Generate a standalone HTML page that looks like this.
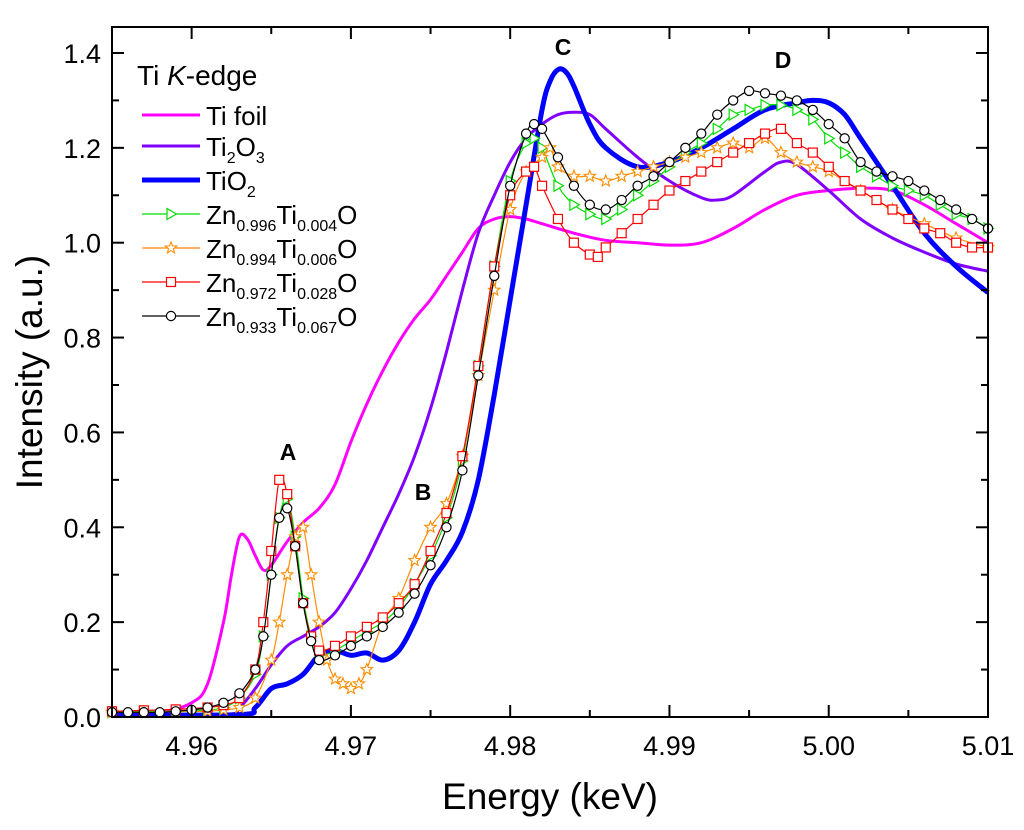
<!DOCTYPE html>
<html><head><meta charset="utf-8">
<style>
html,body{margin:0;padding:0;background:#fff;}
svg{display:block;font-family:"Liberation Sans",Arial,sans-serif;}
</style></head>
<body>
<svg id="chart" width="1024" height="830" viewBox="0 0 1024 830">
<g id="plot"></g>
<g id="axes"></g>
<text x="137" y="85" font-size="28">Ti <tspan font-style="italic">K</tspan>-edge</text>
<g id="legend"></g>
<text x="288" y="460" font-size="23" font-weight="bold" text-anchor="middle">A</text>
<text x="423" y="500" font-size="23" font-weight="bold" text-anchor="middle">B</text>
<text x="563" y="55" font-size="23" font-weight="bold" text-anchor="middle">C</text>
<text x="783" y="68" font-size="23" font-weight="bold" text-anchor="middle">D</text>
<text x="550" y="809" font-size="37" text-anchor="middle">Energy (keV)</text>
<text transform="translate(42,372) rotate(-90)" font-size="37" text-anchor="middle">Intensity (a.u.)</text>
</svg>
<script>
const xTicks=[4.96,4.97,4.98,4.99,5.00,5.01];
const xTickLabels=["4.96","4.97","4.98","4.99","5.00","5.01"];
const yTicks=[0,0.2,0.4,0.6,0.8,1.0,1.2,1.4];
const yTickLabels=["0.0","0.2","0.4","0.6","0.8","1.0","1.2","1.4"];

const foilE=[4.955,4.958,4.960,4.961,4.962,4.9625,4.963,4.9635,4.964,4.9645,4.965,4.966,4.967,4.968,4.969,4.970,4.971,4.972,4.973,4.974,4.975,4.976,4.977,4.978,4.979,4.980,4.981,4.982,4.984,4.986,4.988,4.990,4.992,4.994,4.996,4.998,5.000,5.002,5.004,5.006,5.008,5.010];
const foilI=[0.005,0.01,0.03,0.07,0.2,0.3,0.38,0.375,0.34,0.31,0.32,0.37,0.41,0.44,0.49,0.58,0.66,0.73,0.79,0.84,0.88,0.93,0.98,1.03,1.05,1.055,1.05,1.04,1.02,1.005,1.0,0.995,1.0,1.03,1.07,1.1,1.11,1.115,1.11,1.08,1.04,1.0];

const ti2o3E=[4.955,4.962,4.963,4.964,4.965,4.966,4.967,4.968,4.969,4.970,4.971,4.972,4.973,4.974,4.975,4.976,4.977,4.978,4.979,4.980,4.981,4.982,4.983,4.984,4.985,4.986,4.988,4.990,4.992,4.993,4.994,4.996,4.997,4.998,5.000,5.002,5.004,5.006,5.008,5.010];
const ti2o3I=[0.005,0.005,0.02,0.06,0.11,0.15,0.17,0.19,0.22,0.27,0.33,0.4,0.47,0.55,0.65,0.77,0.9,1.02,1.1,1.17,1.22,1.25,1.27,1.275,1.27,1.24,1.18,1.13,1.095,1.09,1.1,1.15,1.17,1.165,1.11,1.05,1.01,0.98,0.955,0.94];

const tio2E=[4.955,4.963,4.964,4.965,4.966,4.967,4.968,4.969,4.970,4.971,4.972,4.973,4.974,4.975,4.976,4.977,4.978,4.979,4.980,4.981,4.982,4.9825,4.983,4.9835,4.984,4.985,4.986,4.988,4.990,4.992,4.994,4.996,4.998,4.999,5.000,5.001,5.002,5.004,5.006,5.008,5.010];
const tio2I=[0.005,0.005,0.02,0.06,0.07,0.09,0.13,0.14,0.13,0.135,0.12,0.14,0.2,0.28,0.33,0.39,0.5,0.68,0.88,1.08,1.28,1.34,1.365,1.36,1.33,1.25,1.2,1.16,1.17,1.2,1.24,1.28,1.295,1.3,1.295,1.27,1.22,1.12,1.02,0.95,0.895];

const s996E=[4.955,4.957,4.959,4.961,4.962,4.963,4.964,4.9645,4.965,4.9655,4.966,4.9665,4.967,4.9675,4.968,4.969,4.970,4.971,4.972,4.973,4.974,4.975,4.976,4.977,4.978,4.979,4.980,4.981,4.9815,4.982,4.983,4.984,4.985,4.986,4.987,4.988,4.989,4.990,4.991,4.992,4.993,4.994,4.995,4.996,4.997,4.998,4.999,5.000,5.001,5.002,5.003,5.004,5.005,5.006,5.007,5.008,5.009,5.010];
const s996I=[0.01,0.012,0.012,0.015,0.02,0.04,0.09,0.17,0.3,0.42,0.46,0.38,0.25,0.17,0.13,0.14,0.16,0.18,0.2,0.23,0.28,0.34,0.42,0.54,0.74,0.95,1.13,1.21,1.22,1.2,1.12,1.08,1.06,1.05,1.07,1.1,1.13,1.16,1.19,1.21,1.24,1.27,1.28,1.29,1.29,1.28,1.26,1.22,1.19,1.16,1.14,1.12,1.11,1.1,1.08,1.06,1.05,1.03];

const s994E=[4.955,4.957,4.959,4.961,4.962,4.963,4.964,4.965,4.9655,4.966,4.9665,4.967,4.9675,4.968,4.9685,4.969,4.9695,4.970,4.9705,4.971,4.972,4.973,4.974,4.975,4.976,4.977,4.978,4.979,4.980,4.981,4.982,4.9825,4.983,4.984,4.985,4.986,4.987,4.988,4.989,4.990,4.991,4.992,4.993,4.994,4.995,4.996,4.997,4.998,4.999,5.000,5.002,5.004,5.006,5.008,5.010];
const s994I=[0.01,0.01,0.012,0.012,0.015,0.02,0.04,0.12,0.2,0.3,0.38,0.4,0.3,0.2,0.12,0.08,0.07,0.06,0.07,0.1,0.2,0.25,0.33,0.4,0.45,0.55,0.72,0.9,1.07,1.15,1.18,1.2,1.16,1.14,1.14,1.13,1.14,1.15,1.16,1.17,1.18,1.19,1.2,1.21,1.2,1.22,1.19,1.17,1.16,1.15,1.11,1.07,1.04,1.01,0.99];

const s972E=[4.955,4.957,4.959,4.961,4.962,4.963,4.964,4.9645,4.965,4.9655,4.966,4.9665,4.967,4.9675,4.968,4.969,4.970,4.971,4.972,4.973,4.974,4.975,4.976,4.977,4.978,4.979,4.980,4.981,4.9815,4.982,4.983,4.984,4.985,4.9855,4.986,4.987,4.988,4.989,4.990,4.991,4.992,4.993,4.994,4.995,4.996,4.997,4.998,4.999,5.000,5.001,5.002,5.003,5.004,5.005,5.006,5.007,5.008,5.009,5.010];
const s972I=[0.012,0.014,0.016,0.02,0.025,0.04,0.1,0.2,0.35,0.5,0.47,0.36,0.24,0.17,0.14,0.15,0.17,0.19,0.21,0.24,0.28,0.35,0.43,0.55,0.74,0.95,1.1,1.15,1.16,1.12,1.05,1.0,0.975,0.97,0.99,1.02,1.05,1.08,1.11,1.13,1.15,1.17,1.19,1.21,1.23,1.24,1.21,1.19,1.16,1.13,1.11,1.09,1.07,1.05,1.03,1.02,1.0,0.99,0.99];

const s933E=[4.955,4.956,4.957,4.958,4.959,4.960,4.961,4.962,4.963,4.964,4.9645,4.965,4.9655,4.966,4.9665,4.967,4.9675,4.968,4.969,4.970,4.971,4.972,4.973,4.974,4.975,4.976,4.977,4.978,4.979,4.980,4.981,4.9815,4.982,4.983,4.984,4.985,4.986,4.987,4.988,4.989,4.990,4.991,4.992,4.993,4.994,4.995,4.996,4.997,4.998,4.999,5.000,5.001,5.002,5.003,5.004,5.005,5.006,5.007,5.008,5.009,5.010];
const s933I=[0.01,0.01,0.01,0.01,0.012,0.015,0.02,0.03,0.05,0.1,0.17,0.3,0.42,0.44,0.36,0.24,0.16,0.12,0.13,0.15,0.17,0.19,0.22,0.26,0.32,0.4,0.52,0.72,0.93,1.12,1.23,1.25,1.24,1.18,1.12,1.08,1.07,1.09,1.12,1.14,1.17,1.2,1.23,1.27,1.3,1.32,1.315,1.31,1.3,1.28,1.25,1.22,1.17,1.15,1.14,1.13,1.11,1.09,1.07,1.05,1.03];

const L=112,R=988,T=27,B=717;
const xScale=e=>L+(e-4.955)/(5.01-4.955)*(R-L);
const yScale=v=>B-v*474.3;
const NS="http://www.w3.org/2000/svg";
function mk(tag,attrs,parent){const el=document.createElementNS(NS,tag);for(const k in attrs)el.setAttribute(k,attrs[k]);parent.appendChild(el);return el;}
const plot=document.getElementById('plot'),axes=document.getElementById('axes'),legend=document.getElementById('legend');

function smoothPath(E,I){
  const P=E.map((e,i)=>[xScale(e),yScale(I[i])]);
  let d='M'+P[0][0].toFixed(1)+','+P[0][1].toFixed(1);
  for(let i=0;i<P.length-1;i++){
    const p0=P[Math.max(0,i-1)],p1=P[i],p2=P[i+1],p3=P[Math.min(P.length-1,i+2)];
    const c1=[p1[0]+(p2[0]-p0[0])/6,p1[1]+(p2[1]-p0[1])/6];
    const c2=[p2[0]-(p3[0]-p1[0])/6,p2[1]-(p3[1]-p1[1])/6];
    d+='C'+c1[0].toFixed(1)+','+c1[1].toFixed(1)+' '+c2[0].toFixed(1)+','+c2[1].toFixed(1)+' '+p2[0].toFixed(1)+','+p2[1].toFixed(1);
  }
  return d;
}
function drawLine(E,I,color,w,name){
  const p=mk('path',{d:smoothPath(E,I),fill:'none',stroke:color,'stroke-width':w,'stroke-linejoin':'round'},plot);
  
  
}
function marker(kind,x,y,color,parent){
  let m;
  if(kind==='tri'){m=mk('path',{d:`M${x-4},${y-5.5}L${x+5.5},${y}L${x-4},${y+5.5}Z`,fill:'#fff',stroke:color,'stroke-width':1.2},parent);}
  else if(kind==='star'){let pts=[];for(let k=0;k<10;k++){const r=k%2?2.6:6,a=-Math.PI/2+k*Math.PI/5;pts.push((x+r*Math.cos(a)).toFixed(1)+','+(y+r*Math.sin(a)).toFixed(1));}
    m=mk('polygon',{points:pts.join(' '),fill:'#fff',stroke:color,'stroke-width':1.1},parent);}
  else if(kind==='sq'){m=mk('rect',{x:x-4.5,y:y-4.5,width:9,height:9,fill:'#fff',stroke:color,'stroke-width':1.2},parent);}
  else {m=mk('circle',{cx:x,cy:y,r:4.6,fill:'#fff',stroke:color,'stroke-width':1.2},parent);}
  return m;
}
function drawSym(E,I,color,kind,name){
  drawLine(E,I,color,1.2,name+'-line');
  const g=mk('g',{},plot);
  
  
  E.forEach((e,i)=>{const m=marker(kind,xScale(e),yScale(I[i]),color,g);
    
    });
}
drawLine(foilE,foilI,'#ff00ff',3,'ti-foil-line');
drawLine(ti2o3E,ti2o3I,'#8000ff',3,'ti2o3-line');
drawLine(tio2E,tio2I,'#0000ff',5,'tio2-line');
drawSym(s996E,s996I,'#00dd00','tri','zn0996-series');
drawSym(s994E,s994I,'#ff8c00','star','zn0994-series');
drawSym(s972E,s972I,'#ff0000','sq','zn0972-series');
drawSym(s933E,s933I,'#000000','circ','zn0933-series');

const fr=mk('rect',{x:L,y:T,width:R-L,height:B-T,fill:'none',stroke:'#000','stroke-width':2},axes);


for(let v=4.955;v<=5.0101;v+=0.005){const x=xScale(v),major=Math.abs(Math.round(v*100)-v*100)<1e-6;const len=major?12:7;
  mk('line',{x1:x,y1:B,x2:x,y2:B-len,stroke:'#000','stroke-width':2},axes);
  mk('line',{x1:x,y1:T,x2:x,y2:T+len,stroke:'#000','stroke-width':2},axes);}
for(let v=0;v<=1.41;v+=0.1){const y=yScale(v),major=Math.round(v*10)%2===0;const len=major?12:7;
  mk('line',{x1:L,y1:y,x2:L+len,y2:y,stroke:'#000','stroke-width':2},axes);
  mk('line',{x1:R,y1:y,x2:R-len,y2:y,stroke:'#000','stroke-width':2},axes);}
xTicks.forEach((v,i)=>{const t=mk('text',{x:xScale(v),y:755,'font-size':27,'text-anchor':'middle'},axes);t.textContent=xTickLabels[i];
  
  });
yTicks.forEach((v,i)=>{const t=mk('text',{x:101,y:yScale(v)+10,'font-size':27,'text-anchor':'end'},axes);t.textContent=yTickLabels[i];
  
  });

const leg=[
 {lab:'Ti foil',c:'#ff00ff',w:3,k:null,y:115},
 {lab:['Ti','2','O','3'],c:'#8000ff',w:3,k:null,y:146},
 {lab:['TiO','2'],c:'#0000ff',w:5,k:null,y:180},
 {lab:['Zn','0.996','Ti','0.004','O'],c:'#00dd00',w:1.2,k:'tri',y:214},
 {lab:['Zn','0.994','Ti','0.006','O'],c:'#ff8c00',w:1.2,k:'star',y:248},
 {lab:['Zn','0.972','Ti','0.028','O'],c:'#ff0000',w:1.2,k:'sq',y:282},
 {lab:['Zn','0.933','Ti','0.067','O'],c:'#000000',w:1.2,k:'circ',y:316}];
leg.forEach(o=>{
  const g=mk('g',{},legend);
  
  
  mk('line',{x1:142,y1:o.y,x2:200,y2:o.y,stroke:o.c,'stroke-width':o.w},g);
  if(o.k)marker(o.k,171,o.y,o.c,g);
  const t=mk('text',{x:206,y:o.y+10,'font-size':26},g);
  if(typeof o.lab==='string'){t.textContent=o.lab;}
  else{o.lab.forEach((s,i)=>{const ts=mk('tspan',{},t);ts.textContent=s;
    if(i%2===1){ts.setAttribute('font-size','16');ts.setAttribute('dy','7');}
    else if(i>0){ts.setAttribute('dy','-7');}});}
});
</script>
</body></html>
